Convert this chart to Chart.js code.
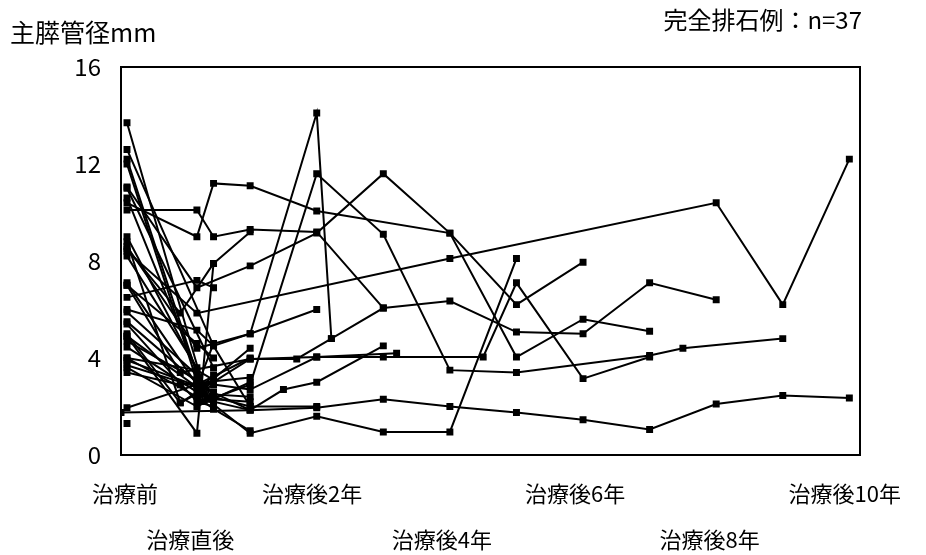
<!DOCTYPE html>
<html>
<head>
<meta charset="utf-8">
<script src="https://cdn.jsdelivr.net/npm/chart.js@4"></script>
<style>
  body { margin: 0; background: #fff; }
  #wrap { position: relative; width: 926px; height: 555px; }
  .hdr { position: absolute; font-family: "Noto Sans CJK JP", sans-serif; color: #000; line-height: 1; white-space: nowrap; }
</style>
</head>
<body>
<div id="wrap">
  <canvas id="stoneChart"></canvas>
  <div class="hdr" style="left:10px; top:19px; font-size:25px;">主膵管径mm</div>
  <div class="hdr" style="right:64px; top:7px; font-size:24px;">完全排石例：n=37</div>
</div>
<script>
// time axis in years after treatment; "治療前" sits left of 0
const PRE = -0.85;
const tickPositions = [-0.88, 0.1, 1.93, 3.88, 5.88, 7.9, 9.93];
const tickLabels = [["治療前"], ["", "治療直後"], ["治療後2年"], ["", "治療後4年"], ["治療後6年"], ["", "治療後8年"], ["治療後10年"]];
const yTicks = [0, 4, 8, 12, 16];

// each patient: [time, duct diameter mm]
const patients = [
  [[PRE, 8.4], [0.2, 5.85], [4, 8.1], [8, 10.4], [9, 6.2], [10, 12.2]],
  [[-0.94, 1.75], [1, 1.85], [2, 1.95], [3, 2.3], [4, 2.0], [5, 1.75], [6, 1.45], [7, 1.05], [8, 2.1], [9, 2.45], [10, 2.35]],
  [[PRE, 12.6], [0.45, 4.5], [1, 5.0], [2, 14.1], [2.22, 4.8], [3, 6.06], [4, 6.35], [5, 5.07], [6, 5.0], [7, 7.1], [8, 6.4]],
  [[PRE, 11.05], [0.2, 6.9], [1, 7.8], [2, 9.15], [3, 11.6], [4, 9.15], [5, 6.2], [6, 7.95]],
  [[PRE, 10.1], [0.2, 10.1], [0.45, 9.0], [1, 9.3], [2, 9.2], [3, 6.06]],
  [[PRE, 10.4], [0.2, 9.0], [0.45, 11.2], [1, 11.1], [2, 10.06], [4, 9.15], [5, 4.04], [6, 5.6], [7, 5.1]],
  [[PRE, 4.9], [0.2, 0.9], [0.45, 7.9], [1, 9.2]],
  [[PRE, 12.0], [0.3, 2.2], [1, 2.9], [2, 11.6], [3, 9.1], [4, 3.5], [5, 3.4], [7, 4.1], [7.5, 4.4], [9, 4.8]],
  [[PRE, 13.7], [0.35, 2.3], [1, 0.9], [2, 1.6], [3, 0.95], [4, 0.95], [5, 8.1]],
  [[PRE, 8.8], [-0.05, 2.15], [1, 3.96], [2, 4.04], [3, 4.04], [4.5, 4.04], [5, 7.1], [6, 3.15], [7, 4.04]],
  [[PRE, 8.6], [0.2, 4.4], [1, 5.0], [2, 6.0]],
  [[PRE, 7.1], [0.2, 2.9], [1, 1.85], [1.5, 2.7], [2, 3.0], [3, 4.5]],
  [[PRE, 5.5], [0.2, 3.0], [1, 2.7], [2, 4.04], [3.2, 4.2]],
  [[PRE, 7.0], [-0.05, 3.4], [1, 3.96], [1.7, 3.96], [2.22, 4.8]],
  [[PRE, 6.0], [0.2, 5.15], [0.45, 4.5], [1, 2.0], [2, 2.0]],
  [[PRE, 5.9], [0.2, 3.3], [0.45, 2.5], [1, 2.4]],
  [[PRE, 4.45], [0.2, 2.6], [0.45, 3.3]],
  [[PRE, 4.0], [0.2, 2.4], [0.45, 1.9], [1, 1.0]],
  [[PRE, 3.7], [0.2, 2.8], [0.45, 4.6]],
  [[PRE, 3.4], [-0.05, 2.9], [1, 3.2]],
  [[PRE, 1.95], [0.2, 2.9], [1, 4.0]],
  [[PRE, 1.3]],
  [[PRE, 5.4], [0.2, 2.2], [0.45, 2.0]],
  [[PRE, 4.9], [0.45, 2.3], [1, 2.2]],
  [[PRE, 4.7], [0.2, 3.1]],
  [[PRE, 3.9], [0.45, 2.6]],
  [[PRE, 8.2], [0.2, 3.6], [0.45, 1.9]],
  [[PRE, 9.0], [0.45, 2.2], [1, 1.85]],
  [[PRE, 6.5], [0.2, 7.2], [0.45, 6.9]],
  [[PRE, 12.2], [0.3, 2.5], [1, 2.0]],
  [[PRE, 8.5], [-0.05, 5.85], [0.45, 7.9]],
  [[PRE, 11.0], [0.45, 3.6]],
  [[PRE, 3.6], [0.2, 2.0], [1, 3.0]],
  [[PRE, 10.6], [0.3, 2.8], [1, 4.4]],
  [[PRE, 7.0], [0.2, 4.6], [0.45, 4.0]],
  [[PRE, 5.0], [-0.05, 2.15], [0.45, 2.9]],
  [[PRE, 4.0], [0.2, 3.5], [0.45, 3.1]]
];

// box round the plot area
const frame = {
  id: "frame",
  afterDraw(chart) {
    const a = chart.chartArea, ctx = chart.ctx;
    ctx.save();
    ctx.strokeStyle = "#000";
    ctx.lineWidth = 2;
    ctx.strokeRect(a.left, a.top, a.right - a.left, a.bottom - a.top);
    ctx.restore();
  }
};

document.addEventListener("DOMContentLoaded", function () {
  const font = "'Noto Sans CJK JP', sans-serif";
  const datasets = patients.map(p => ({
    data: p.map(d => ({ x: d[0], y: d[1] })),
    borderColor: "#000",
    backgroundColor: "#000",
    borderWidth: 2,
    pointStyle: "rect",
    pointRadius: 3.5,
    tension: 0
  }));

  new Chart(document.getElementById("stoneChart"), {
    type: "line",
    data: { datasets: datasets },
    options: {
      responsive: true,
      maintainAspectRatio: false,
      animation: false,
      layout: { padding: { left: 41, right: 66, top: 67, bottom: 0 } },
      plugins: { legend: { display: false }, tooltip: { enabled: false } },
      scales: {
        x: {
          type: "linear",
          min: -0.94,
          max: 10.16,
          grid: { display: false, drawTicks: false },
          border: { display: false },
          afterBuildTicks: s => { s.ticks = tickPositions.map(v => ({ value: v })); },
          afterFit: s => { s.height = 100; },
          ticks: {
            autoSkip: false,
            minRotation: 0,
            maxRotation: 0,
            padding: 16,
            color: "#000",
            font: { family: font, size: 22, lineHeight: "46px" },
            callback: (v, i) => tickLabels[i]
          }
        },
        y: {
          min: 0,
          max: 16,
          grid: { display: false, drawTicks: false },
          border: { display: false },
          afterBuildTicks: s => { s.ticks = yTicks.map(v => ({ value: v })); },
          afterFit: s => { s.width = 80; },
          ticks: {
            padding: 20,
            color: "#000",
            font: { family: font, size: 24 }
          }
        }
      }
    },
    plugins: [frame]
  });
});
</script>
</body>
</html>
